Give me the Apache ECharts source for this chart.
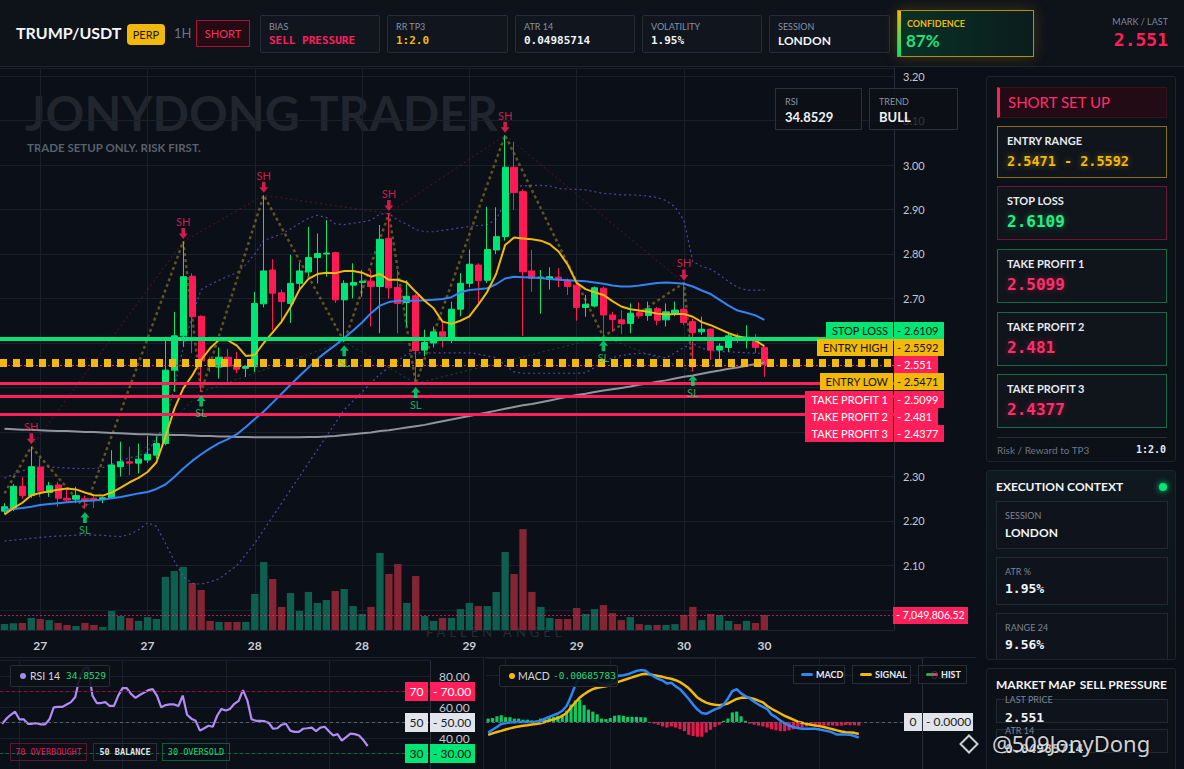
<!DOCTYPE html>
<html>
<head>
<meta charset="utf-8">
<title>TRUMP/USDT</title>
<script src="https://cdn.jsdelivr.net/npm/echarts@6/dist/echarts.min.js"></script>
<style>
*{box-sizing:border-box}
html,body{margin:0;padding:0;width:1184px;height:769px;overflow:hidden;background:#0b0f17;font-family:Lato,"Noto Sans",sans-serif;color:#e8ebf0}
.abs{position:absolute;white-space:nowrap}
.mono{font-family:"DejaVu Sans Mono","Liberation Mono",monospace;font-weight:bold}
#bg{position:absolute;left:0;top:0;width:1184px;height:769px;z-index:0}
#chart{position:absolute;left:0;top:0;width:1184px;height:769px;z-index:1}
#ui{position:absolute;left:0;top:0;width:1184px;height:769px;z-index:2;pointer-events:none}
#wm1{left:25px;top:85px;font-size:48px;font-weight:bold;color:#20252e;line-height:56px}
#wm2{left:27px;top:141px;font-size:11.5px;font-weight:bold;color:#59606d}
#wm3{left:426px;top:624px;font-size:13px;letter-spacing:4px;color:#252b35}
#hdr{left:0;top:0;width:1184px;height:67px;background:#0e1219;border-bottom:1px solid #1d2431}
.perp{left:127px;top:24px;width:38px;height:21px;background:#f0b90b;border-radius:4px;color:#1b1608;font-size:11px;line-height:21px;text-align:center}
.short{left:196px;top:20px;width:54px;height:27px;border:1px solid #a5133d;background:#230a13;color:#ff2d5f;font-size:11px;line-height:25px;text-align:center}
.ib{top:15px;height:38px;border:1px solid #242c39;background:#10151e;border-radius:2px}
.ib .l{position:absolute;left:8px;top:5px;font-size:9px;color:#8892a6}
.ib .v{position:absolute;left:8px;top:18px;font-size:11px;color:#f1f3f6;line-height:14px}
.conf{left:897px;top:10px;width:137px;height:47px;border:1px solid #b38c13;background:linear-gradient(90deg,rgba(4,70,45,.6),rgba(8,40,33,.5));box-shadow:0 0 14px rgba(240,185,11,.22)}
.conf .bar{position:absolute;left:0;top:0;width:3px;height:100%;background:linear-gradient(#f0b90b,#00e676)}
.conf .l{position:absolute;left:9px;top:7px;font-size:9px;font-weight:bold;color:#f0b90b}
.conf .v{position:absolute;left:8px;top:19px;font-size:17px;font-weight:bold;color:#22e07a}
.card{border:1px solid #1b2230;background:#0c1118;border-radius:3px;overflow:hidden}
.sshdr{left:10px;top:10px;width:170px;height:31px;background:#230b15;border:1px solid #361221;border-left:3px solid #ff1f5a;color:#ff2d6a;font-size:15px;line-height:29px;padding-left:8px}
.sbox{left:10px;width:170px;border:1px solid;background:#10151c}
.sbox .sl{position:absolute;left:9px;top:7px;font-size:11px;color:#e8ebf0;font-weight:bold}
.sbox .sv{position:absolute;left:9px;top:25px;font-size:16px}
.ec .t,.mm .t{position:absolute;top:8px;font-size:12px;font-weight:bold;color:#f2f4f7}
.dot{left:172px;top:12px;width:8px;height:8px;border-radius:50%;background:#00e676;box-shadow:0 0 6px #00e676}
.sub{left:9px;width:172px;border:1px solid #222936;background:#0f141c}
.sub .l{position:absolute;left:8px;top:8px;font-size:9px;color:#7b8495}
.sub .v{position:absolute;left:8px;top:23px;font-size:12px;font-weight:bold;color:#f2f4f7}
.ibox{top:88px;height:42px;border:1px solid #2a313d;background:rgba(12,16,23,.8)}
.ibox .l{position:absolute;left:9px;top:7px;font-size:9px;color:#8a93a3}
.ibox .v{position:absolute;left:9px;top:20px;font-size:13px;font-weight:bold;color:#eef0f3}
.leg{height:22px;border:1px solid #262d39;background:rgba(11,15,22,.9);border-radius:2px;font-size:10.5px;line-height:20px}
.leg .mv{font-family:"DejaVu Sans Mono","Liberation Mono",monospace;font-size:9.5px;color:#1fdc78}
.chip{top:743px;height:18px;border:1px solid;font-size:8.5px;line-height:16px;text-align:center}
.ml{top:665px;height:19px;border:1px solid #262d39;background:rgba(11,15,22,.75);font-size:9px;font-weight:bold;line-height:17px;color:#e6e9ee}
.ml i{position:absolute;left:7px;top:7px;width:12px;height:3px;border-radius:2px}
.ml span{position:absolute;left:22px}
.sep{background:#1c2330}
</style>
</head>
<body>
<div id="bg">
  <div class="abs" id="wm1">JONYDONG TRADER</div>
  <div class="abs" id="wm2">TRADE SETUP ONLY. RISK FIRST.</div>
  <div class="abs" id="wm3">FALLEN ANGEL</div>
</div>
<div id="chart"></div>
<div id="ui">
  <div class="abs sep" style="left:0;top:657px;width:976px;height:1px"></div>
  <div class="abs sep" style="left:483px;top:657px;width:1px;height:112px"></div>

  <div class="abs" id="hdr">
    <div class="abs" style="left:16px;top:23px;font-weight:bold;font-size:16px;color:#f5f6f8">TRUMP/USDT</div>
    <div class="abs perp">PERP</div>
    <div class="abs" style="left:174px;top:25px;font-size:13px;color:#6a7487">1H</div>
    <div class="abs short">SHORT</div>
    <div class="abs ib" style="left:260px;width:120px"><div class="l">BIAS</div><div class="v mono" style="color:#ff1f5a">SELL PRESSURE</div></div>
    <div class="abs ib" style="left:387px;width:121px"><div class="l">RR TP3</div><div class="v mono" style="color:#f0b90b">1:2.0</div></div>
    <div class="abs ib" style="left:515px;width:120px"><div class="l">ATR 14</div><div class="v mono">0.04985714</div></div>
    <div class="abs ib" style="left:642px;width:120px"><div class="l">VOLATILITY</div><div class="v mono">1.95%</div></div>
    <div class="abs ib" style="left:769px;width:121px"><div class="l">SESSION</div><div class="v" style="font-weight:bold;font-size:12px">LONDON</div></div>
    <div class="abs conf"><div class="bar"></div><div class="l">CONFIDENCE</div><div class="v">87%</div></div>
    <div class="abs" style="right:16px;top:16px;font-size:9px;color:#7d879b">MARK / LAST</div>
    <div class="abs mono" style="right:16px;top:29px;font-size:18px;color:#ff1f5a">2.551</div>
  </div>

  <div class="abs ibox" style="left:775px;width:87px"><div class="l">RSI</div><div class="v">34.8529</div></div>
  <div class="abs ibox" style="left:869px;width:89px"><div class="l">TREND</div><div class="v">BULL</div></div>

  <div class="abs card" style="left:986px;top:76px;width:190px;height:386px">
    <div class="abs sshdr">SHORT SET UP</div>
    <div class="abs sbox" style="top:49px;height:52px;border-color:#8c6d12"><div class="sl">ENTRY RANGE</div><div class="sv mono" style="font-size:13.5px;top:26px;color:#f0b90b;text-shadow:0 0 6px rgba(240,185,11,.5)">2.5471 - 2.5592</div></div>
    <div class="abs sbox" style="top:109px;height:54px;border-color:#6e1636"><div class="sl">STOP LOSS</div><div class="sv mono" style="color:#27ee85;text-shadow:0 0 6px rgba(0,230,118,.45)">2.6109</div></div>
    <div class="abs sbox" style="top:172px;height:54px;border-color:#146b47"><div class="sl">TAKE PROFIT 1</div><div class="sv mono" style="color:#ff2d6a;text-shadow:0 0 6px rgba(255,31,90,.45)">2.5099</div></div>
    <div class="abs sbox" style="top:235px;height:54px;border-color:#146b47"><div class="sl">TAKE PROFIT 2</div><div class="sv mono" style="color:#ff2d6a;text-shadow:0 0 6px rgba(255,31,90,.45)">2.481</div></div>
    <div class="abs sbox" style="top:297px;height:54px;border-color:#146b47"><div class="sl">TAKE PROFIT 3</div><div class="sv mono" style="color:#ff2d6a;text-shadow:0 0 6px rgba(255,31,90,.45)">2.4377</div></div>
    <div class="abs" style="left:10px;top:360px;width:170px;height:1px;background:#262d3a"></div>
    <div class="abs" style="left:10px;top:367px;font-size:10px;color:#6d7686">Risk / Reward to TP3</div>
    <div class="abs mono" style="right:9px;top:367px;font-size:10px;color:#e6e9ee">1:2.0</div>
  </div>

  <div class="abs card ec" style="left:986px;top:470px;width:190px;height:190px;background:linear-gradient(#101820,#0c1118)">
    <div class="t" style="left:9px">EXECUTION CONTEXT</div>
    <div class="abs dot"></div>
    <div class="abs sub" style="top:30px;height:48px"><div class="l">SESSION</div><div class="v">LONDON</div></div>
    <div class="abs sub" style="top:86px;height:48px"><div class="l">ATR %</div><div class="v mono" style="font-size:13px">1.95%</div></div>
    <div class="abs sub" style="top:142px;height:48px"><div class="l">RANGE 24</div><div class="v mono" style="font-size:13px">9.56%</div></div>
  </div>

  <div class="abs card mm" style="left:986px;top:668px;width:190px;height:110px">
    <div class="t" style="left:9px">MARKET MAP</div>
    <div class="t" style="right:8px">SELL PRESSURE</div>
    <div class="abs sub" style="top:30px;height:24px"></div>
    <div class="abs" style="left:18px;top:25px;font-size:9px;color:#7b8495">LAST PRICE</div>
    <div class="abs mono" style="left:18px;top:41px;font-size:13px;color:#f2f4f7">2.551</div>
    <div class="abs sub" style="top:60px;height:24px"></div>
    <div class="abs" style="left:18px;top:56px;font-size:9px;color:#7b8495">ATR 14</div>
    <div class="abs mono" style="left:18px;top:72px;font-size:13px;color:#f2f4f7">0.04985714</div>
  </div>

  <div class="abs leg" style="left:10px;top:665px;width:100px">
    <div class="abs" style="left:9px;top:7px;width:6px;height:6px;border-radius:50%;background:#a48bf0"></div>
    <div class="abs" style="left:19px;color:#d6d9df">RSI 14</div>
    <div class="abs mv" style="left:55px">34.8529</div>
  </div>
  <div class="abs chip mono" style="left:10px;width:77px;border-color:#5c1630;color:#e0175b;font-weight:normal">70 OVERBOUGHT</div>
  <div class="abs chip mono" style="left:93px;width:64px;border-color:#2a303b;color:#dfe2e7">50 BALANCE</div>
  <div class="abs chip mono" style="left:162px;width:68px;border-color:#0f5c38;color:#12d872;font-weight:normal">30 OVERSOLD</div>

  <div class="abs leg" style="left:499px;top:665px;width:119px">
    <div class="abs" style="left:9px;top:7px;width:6px;height:6px;border-radius:50%;background:#f0b90b"></div>
    <div class="abs" style="left:18px;color:#d6d9df">MACD</div>
    <div class="abs mv" style="left:53px">-0.00685783</div>
  </div>
  <div class="abs ml" style="left:793px;width:52px"><i style="background:#2f86f6"></i><span>MACD</span></div>
  <div class="abs ml" style="left:852px;width:59px"><i style="background:#f0b90b"></i><span>SIGNAL</span></div>
  <div class="abs ml" style="left:918px;width:49px"><i style="background:linear-gradient(90deg,#00c853,#ff1f5a)"></i><span>HIST</span></div>

  <div class="abs" style="left:962px;top:737px;width:14px;height:14px;border:2px solid rgba(255,255,255,.8);transform:rotate(45deg)"></div>
  <div class="abs" style="left:992px;top:728px;font-size:22px;font-family:'Noto Sans',sans-serif;color:rgba(255,255,255,.82);text-shadow:0 0 3px #000">@509JonyDong</div>
</div>

<script>
// ---------- data ----------
const tickIndex = [4, 16, 28, 40, 52, 64, 76, 85];
const tickText = ['27', '27', '28', '28', '29', '29', '30', '30'];
const slotCount = 100; // hourly slots on the time axis (86 candles + right padding)

const open = [2.222,2.228,2.278,2.257,2.321,2.264,2.281,2.251,2.249,2.250,
2.251,2.248,2.251,2.322,2.333,2.330,2.337,2.348,2.374,2.539,
2.616,2.750,2.660,2.562,2.546,2.568,2.552,2.543,2.547,2.688,
2.764,2.713,2.689,2.734,2.760,2.792,2.800,2.803,2.697,2.730,
2.736,2.739,2.727,2.835,2.725,2.691,2.706,2.584,2.600,2.625,
2.607,2.676,2.734,2.775,2.741,2.809,2.839,2.995,2.940,2.762,
2.745,2.743,2.748,2.741,2.730,2.680,2.683,2.723,2.663,2.652,
2.644,2.668,2.662,2.677,2.652,2.667,2.676,2.648,2.625,2.631,
2.584,2.590,2.614,2.608,2.608,2.590];
const close = [2.232,2.278,2.257,2.322,2.267,2.279,2.251,2.247,2.257,2.246,
2.247,2.252,2.326,2.333,2.330,2.339,2.350,2.374,2.539,2.616,
2.749,2.659,2.560,2.548,2.568,2.548,2.541,2.547,2.689,2.762,
2.712,2.693,2.734,2.762,2.792,2.801,2.802,2.697,2.734,2.736,
2.739,2.727,2.833,2.724,2.689,2.705,2.583,2.601,2.625,2.614,
2.676,2.734,2.777,2.740,2.810,2.839,2.995,2.938,2.760,2.745,
2.748,2.749,2.742,2.727,2.680,2.687,2.724,2.663,2.653,2.644,
2.667,2.661,2.677,2.651,2.670,2.674,2.646,2.623,2.631,2.584,
2.593,2.616,2.607,2.613,2.590,2.551];
const low = [2.215,2.222,2.250,2.252,2.254,2.254,2.232,2.243,2.240,2.228,
2.229,2.240,2.250,2.300,2.303,2.307,2.330,2.340,2.370,2.490,
2.592,2.577,2.490,2.535,2.520,2.513,2.532,2.524,2.535,2.680,
2.629,2.643,2.645,2.720,2.750,2.734,2.749,2.690,2.603,2.700,
2.704,2.637,2.622,2.700,2.622,2.637,2.509,2.570,2.590,2.590,
2.600,2.660,2.725,2.689,2.735,2.800,2.830,2.899,2.616,2.715,
2.666,2.720,2.725,2.708,2.650,2.659,2.680,2.614,2.625,2.620,
2.622,2.655,2.650,2.640,2.637,2.660,2.640,2.536,2.618,2.562,
2.558,2.580,2.600,2.588,2.578,2.524];
const high = [2.240,2.283,2.299,2.367,2.341,2.288,2.288,2.270,2.277,2.257,
2.258,2.255,2.359,2.378,2.367,2.374,2.391,2.390,2.614,2.670,
2.828,2.757,2.662,2.569,2.590,2.587,2.580,2.551,2.715,2.932,
2.788,2.720,2.798,2.780,2.861,2.846,2.876,2.805,2.741,2.779,
2.764,2.764,2.865,2.891,2.764,2.741,2.710,2.630,2.637,2.651,
2.693,2.757,2.810,2.779,2.906,2.905,3.067,3.052,2.945,2.809,
2.764,2.770,2.768,2.745,2.738,2.708,2.727,2.727,2.670,2.674,
2.689,2.691,2.693,2.681,2.689,2.693,2.735,2.655,2.659,2.633,
2.599,2.625,2.622,2.640,2.620,2.592];
// volume in millions
const volumeM = [2.8,3.2,3.3,5.7,5.2,4.7,3.3,2.4,1.9,3.3,
2.4,1.4,9.0,6.6,5.7,4.3,6.1,5.2,25.1,27.9,
29.8,22.2,18.9,4.3,3.8,3.8,3.8,3.8,17.0,32.1,
24.1,10.9,17.5,9.0,18.0,12.8,14.2,18.4,19.4,11.3,
7.6,10.9,36.4,26.5,31.2,12.8,25.5,6.6,4.3,5.7,
5.7,9.9,12.8,11.3,11.3,18.0,36.9,26.5,47.7,18.0,
10.9,5.7,5.2,5.2,10.4,7.6,9.9,11.8,8.0,4.7,
6.1,2.8,2.4,2.4,2.4,2.8,7.1,10.9,4.7,7.6,
7.1,4.3,2.8,4.3,3.3,7.04980652];
const emaFast = [2.215,2.229,2.241,2.258,2.263,2.267,2.270,2.273,2.271,2.264,
2.258,2.257,2.264,2.275,2.287,2.297,2.310,2.332,2.389,2.452,
2.498,2.527,2.562,2.588,2.607,2.606,2.594,2.571,2.573,2.600,
2.624,2.648,2.681,2.720,2.744,2.755,2.758,2.757,2.762,2.762,
2.758,2.749,2.755,2.742,2.742,2.736,2.715,2.695,2.678,2.648,
2.643,2.650,2.660,2.686,2.715,2.755,2.820,2.837,2.835,2.833,
2.830,2.822,2.805,2.776,2.735,2.721,2.714,2.708,2.694,2.682,
2.676,2.673,2.670,2.666,2.664,2.665,2.665,2.659,2.647,2.640,
2.631,2.622,2.615,2.611,2.606,2.593];
const emaSlow = [2.226,2.227,2.229,2.232,2.236,2.238,2.240,2.242,2.244,2.245,
2.246,2.248,2.251,2.254,2.258,2.262,2.265,2.272,2.282,2.299,
2.318,2.335,2.350,2.363,2.375,2.384,2.395,2.411,2.429,2.446,
2.466,2.486,2.506,2.526,2.545,2.564,2.580,2.595,2.611,2.628,
2.646,2.667,2.684,2.692,2.695,2.695,2.695,2.696,2.697,2.699,
2.703,2.714,2.719,2.721,2.723,2.732,2.745,2.749,2.748,2.747,
2.746,2.744,2.742,2.741,2.740,2.739,2.736,2.733,2.729,2.727,
2.727,2.729,2.732,2.735,2.736,2.735,2.733,2.727,2.718,2.710,
2.697,2.684,2.673,2.668,2.662,2.652];
const ema200 = [2.407,2.406,2.405,2.405,2.404,2.403,2.402,2.402,2.401,2.400,
2.400,2.399,2.398,2.397,2.396,2.395,2.395,2.394,2.394,2.393,
2.393,2.392,2.391,2.391,2.390,2.390,2.389,2.389,2.388,2.388,
2.388,2.388,2.388,2.388,2.389,2.389,2.390,2.391,2.393,2.395,
2.397,2.399,2.402,2.404,2.407,2.410,2.413,2.416,2.420,2.424,
2.428,2.432,2.436,2.440,2.444,2.448,2.452,2.456,2.460,2.463,
2.467,2.471,2.475,2.479,2.483,2.486,2.490,2.493,2.496,2.499,
2.502,2.506,2.509,2.513,2.516,2.520,2.524,2.527,2.531,2.535,
2.538,2.542,2.545,2.549,2.553,2.556];
const bandUpper = [2.296,2.305,2.313,2.318,2.322,2.321,2.320,2.319,2.318,2.318,
2.318,2.320,2.328,2.335,2.342,2.346,2.355,2.385,2.420,2.500,
2.590,2.660,2.720,2.731,2.741,2.750,2.758,2.776,2.800,2.830,
2.838,2.845,2.856,2.869,2.880,2.887,2.882,2.868,2.866,2.869,
2.872,2.876,2.890,2.891,2.876,2.867,2.855,2.850,2.850,2.853,
2.856,2.859,2.862,2.864,2.866,2.878,2.915,2.952,2.953,2.954,
2.954,2.953,2.947,2.946,2.945,2.944,2.940,2.936,2.935,2.933,
2.933,2.932,2.930,2.927,2.920,2.906,2.876,2.783,2.772,2.766,
2.753,2.738,2.725,2.719,2.719,2.719];
const bandLower = [2.155,2.157,2.159,2.161,2.163,2.165,2.166,2.167,2.168,2.168,
2.168,2.168,2.166,2.165,2.170,2.180,2.196,2.188,2.150,2.110,
2.075,2.060,2.058,2.063,2.070,2.085,2.100,2.125,2.150,2.180,
2.210,2.240,2.270,2.300,2.330,2.360,2.390,2.420,2.450,2.470,
2.490,2.510,2.530,2.545,2.560,2.575,2.578,2.578,2.578,2.578,
2.578,2.578,2.578,2.575,2.571,2.567,2.550,2.535,2.532,2.532,
2.532,2.532,2.532,2.532,2.532,2.533,2.545,2.556,2.567,2.572,
2.575,2.577,2.575,2.571,2.566,2.578,2.590,2.599,2.588,2.583,
2.581,2.580,2.579,2.578,2.577,2.577];
const swingHighIdx = [3, 20, 29, 43, 56, 76];
const swingLowIdx = [9, 22, 38, 46, 67, 77];
const zigzagStart = 2.262; // where the swing line enters the left edge
const levelNames = ['STOP LOSS', 'ENTRY HIGH', '', 'ENTRY LOW', 'TAKE PROFIT 1', 'TAKE PROFIT 2', 'TAKE PROFIT 3'];
const levelValues = [2.6109, 2.5592, 2.551, 2.5471, 2.5099, 2.481, 2.4377];
const levelKinds = ['sl', 'entry', 'last', 'entry', 'tp', 'tp', 'tp'];
const priceTicks = [2.0, 2.1, 2.2, 2.3, 2.4, 2.5, 2.6, 2.7, 2.8, 2.9, 3.0, 3.1, 3.2];
const rsi = [49.2,52.5,55.0,57.0,52.1,52.1,49.2,49.2,49.6,48.8,
48.8,52.1,59.8,60.1,60.1,61.7,63.2,66.5,78.9,84.7,
85.6,67.4,62.6,62.6,63.2,60.7,60.7,67.4,72.2,72.2,
68.4,65.9,67.8,69.3,70.9,71.6,67.4,59.8,61.3,61.7,
61.7,60.7,67.4,55.0,52.5,51.1,44.8,46.3,47.9,47.3,
54.4,58.8,57.8,58.8,62.1,64.0,70.9,64.5,52.1,51.1,
51.1,50.9,49.8,46.0,46.3,48.6,49.2,44.8,44.0,44.0,
46.0,46.3,46.7,44.4,46.7,47.3,44.4,41.6,42.5,38.3,
40.6,42.9,42.5,41.6,38.7,34.85];
const rsiLevels = [70, 50, 30];
const macd = [-0.0226,-0.0167,-0.0107,-0.0042,-0.0024,-0.0012,-0.0006,0,0,0,
0,0.0006,0.0018,0.0071,0.0107,0.0143,0.0179,0.0238,0.0339,0.0548,
0.0786,0.0946,0.094,0.0923,0.0893,0.0857,0.0815,0.0798,0.0833,0.0935,
0.0982,0.0994,0.1012,0.1048,0.1083,0.1101,0.1095,0.1024,0.0964,0.0917,
0.0881,0.0815,0.0833,0.0756,0.0696,0.0595,0.0488,0.0369,0.0262,0.019,
0.0173,0.022,0.0268,0.0298,0.0369,0.05,0.0655,0.0696,0.0607,0.0548,
0.05,0.0429,0.0369,0.0321,0.0274,0.0155,0.0101,0.003,-0.003,-0.0077,
-0.0107,-0.0131,-0.0143,-0.0143,-0.0143,-0.0143,-0.0161,-0.0179,-0.0196,-0.0226,
-0.0268,-0.0268,-0.0268,-0.0274,-0.0298,-0.0333];
const signal = [-0.0274,-0.0244,-0.0214,-0.019,-0.0161,-0.0137,-0.0113,-0.0095,-0.0083,-0.0071,
-0.0054,-0.0042,-0.003,0,0.003,0.0054,0.0083,0.0131,0.019,0.031,
0.0417,0.0518,0.0589,0.0649,0.0696,0.0726,0.0744,0.0756,0.0786,0.0821,
0.0857,0.0887,0.0917,0.0946,0.0976,0.1006,0.1024,0.1012,0.0994,0.0976,
0.0958,0.0935,0.0917,0.0887,0.0845,0.0786,0.0714,0.0619,0.0518,0.0458,
0.0411,0.0381,0.0363,0.0357,0.0369,0.0393,0.044,0.0488,0.0512,0.0518,
0.0512,0.0488,0.0452,0.0417,0.0339,0.028,0.0232,0.0179,0.0131,0.0089,
0.0048,0.0006,-0.0018,-0.0042,-0.006,-0.0077,-0.0089,-0.0107,-0.0131,-0.0155,
-0.0179,-0.0202,-0.022,-0.0226,-0.0232,-0.0256];
const hist = [0.0071,0.0083,0.0119,0.0143,0.0101,0.0101,0.0071,0.0071,0.0048,0.0048,
0.003,0.003,0.0071,0.0083,0.0101,0.0107,0.0131,0.0155,0.0238,0.0369,
0.0458,0.0476,0.0357,0.0262,0.022,0.0161,0.0071,0.006,0.0083,0.0131,
0.0143,0.0131,0.0107,0.0107,0.0107,0.0101,0.0095,-0.0024,-0.0036,-0.006,
-0.0095,-0.0119,-0.0095,-0.0119,-0.0155,-0.0196,-0.0274,-0.0298,-0.0315,-0.0315,
-0.0226,-0.0167,-0.0107,-0.006,0.0024,0.0071,0.0202,0.022,0.0119,0.0024,
-0.0036,-0.006,-0.0077,-0.0095,-0.0119,-0.0155,-0.0179,-0.0196,-0.0196,-0.0179,
-0.0155,-0.0143,-0.0119,-0.0095,-0.0077,-0.0077,-0.0077,-0.0077,-0.0077,-0.0077,
-0.0083,-0.0077,-0.0065,-0.0071,-0.0071,-0.0077];

// ---------- build ----------
const categories = [];
for (let i = 0; i < slotCount; i++) {
  const h = i + 20;
  categories.push((26 + Math.floor(h / 24)) + ' ' + String(h % 24).padStart(2, '0') + ':00');
}
const UP = '#00e676', DOWN = '#ff1a55';
const VOL_UP = '#0d5f50', VOL_DN = '#842534';
const GRID = '#1a202b';
const FONT = 'Lato, "Noto Sans", sans-serif';
const candles = open.map((o, i) => [o, close[i], low[i], high[i]]);
const pivots = swingHighIdx.map(i => [i, high[i]]).concat(swingLowIdx.map(i => [i, low[i]])).sort((a, b) => a[0] - b[0]);
const zigzag = [[0, zigzagStart]].concat(pivots);
const ARROW_DOWN = 'path://M3,0L7,0L7,6L10,6L5,12L0,6L3,6Z';
const ARROW_UP = 'path://M5,0L10,6L7,6L7,12L3,12L3,6L0,6Z';
const mainLines = tickIndex.slice(0, -1);
const subLine = i => i >= 4 && i < 86 && (i - 4) % 24 === 0;
let hiddenPriceLabels = [];

function xAx(grid, extra) {
  return Object.assign({
    type: 'category', gridIndex: grid, data: categories, boundaryGap: true,
    axisLine: { show: false }, axisTick: { show: false }, axisLabel: { show: false },
    splitLine: { show: false }
  }, extra || {});
}
function lineS(data, color, width, type, z, ax) {
  return { type: 'line', xAxisIndex: ax || 0, yAxisIndex: ax || 0, data: data, symbol: 'none', showSymbol: false,
    silent: true, z: z, lineStyle: { color: color, width: width, type: type || 'solid' } };
}
function priceLabel(v) {
  for (let k = 0; k < hiddenPriceLabels.length; k++) if (Math.abs(hiddenPriceLabels[k] - v) < 1e-6) return '';
  return v.toFixed(2);
}

const chart = echarts.init(document.getElementById('chart'), null, { renderer: 'svg', width: 1184, height: 769 });
const lvlStyle = {
  sl: { color: '#00e676', width: 4, type: 'solid' },
  entry: { color: '#f0b90b', width: 4, type: [7, 6] },
  last: { color: '#ff1f5a', width: 1, type: [2, 2] },
  tp: { color: '#ff1f5a', width: 3, type: 'solid' }
};

chart.setOption({
  animation: false,
  backgroundColor: 'transparent',
  textStyle: { fontFamily: FONT },
  grid: [
    { left: 0, top: 68, width: 894, height: 562 },
    { left: 0, top: 520, width: 894, height: 110 },
    { left: 0, top: 660.6, width: 430, height: 121.8 },
    { left: 486, top: 658.4, width: 436, height: 131.6 }
  ],
  xAxis: [
    xAx(0, { splitLine: { show: true, alignWithLabel: true, interval: i => mainLines.indexOf(i) >= 0, lineStyle: { color: GRID } } }),
    xAx(1, {
      axisLine: { show: true, lineStyle: { color: '#1d2431' } },
      axisLabel: { show: true, interval: i => tickIndex.indexOf(i) >= 0, formatter: (v, i) => tickText[tickIndex.indexOf(i)] || '',
        color: '#c9ced6', fontSize: 12, fontWeight: 'bold', margin: 9, fontFamily: FONT }
    }),
    xAx(2, { splitLine: { show: true, alignWithLabel: true, interval: subLine, lineStyle: { color: GRID } } }),
    xAx(3, { splitLine: { show: true, alignWithLabel: true, interval: subLine, lineStyle: { color: GRID } } })
  ],
  yAxis: [
    { type: 'value', gridIndex: 0, position: 'right', min: 1.955, max: 3.218, splitNumber: 13, scale: true,
      axisLine: { show: true, lineStyle: { color: '#262d3a' } }, axisTick: { show: false },
      axisLabel: { color: '#c3c8d0', fontSize: 11, margin: 9, showMinLabel: false, showMaxLabel: false, formatter: priceLabel },
      splitLine: { show: true, lineStyle: { color: GRID } } },
    { type: 'value', gridIndex: 1, min: 0, max: 52, show: false, splitLine: { show: false } },
    { type: 'value', gridIndex: 2, position: 'right', min: 20, max: 90, interval: 10,
      axisLine: { show: true, lineStyle: { color: '#262d3a' } }, axisTick: { show: false },
      axisLabel: { color: '#c3c8d0', fontSize: 12, margin: 9, formatter: v => ([80, 60, 40].indexOf(v) >= 0 ? v.toFixed(2) : '') },
      splitLine: { show: true, lineStyle: { color: GRID } } },
    { type: 'value', gridIndex: 3, position: 'right', min: -0.1, max: 0.135, interval: 0.1,
      axisLine: { show: true, lineStyle: { color: '#262d3a' } }, axisTick: { show: false },
      axisLabel: { color: '#8a909b', fontSize: 12, margin: 9, formatter: v => (Math.abs(v - 0.1) < 1e-9 ? '0.10' : '') },
      splitLine: { show: true, lineStyle: { color: GRID } } }
  ],
  series: [
    lineS(bandUpper, 'rgba(110,85,210,0.75)', 1.2, [2, 3], 1),
    lineS(bandLower, 'rgba(110,85,210,0.75)', 1.2, [2, 3], 1),
    lineS(swingHighIdx.map(i => [i, high[i]]), 'rgba(150,30,65,0.55)', 1, [2, 3], 1),
    lineS(swingLowIdx.map(i => [i, low[i]]), 'rgba(30,130,85,0.5)', 1, [2, 3], 1),
    lineS(zigzag, 'rgba(165,140,40,0.55)', 2.5, [3, 3], 1),
    {
      type: 'candlestick', xAxisIndex: 0, yAxisIndex: 0, data: candles, barWidth: '74%', z: 2, silent: true,
      itemStyle: { color: UP, color0: DOWN, borderColor: UP, borderColor0: DOWN, borderWidth: 1 },
      markLine: {
        symbol: ['none', 'none'], silent: true, animation: false, label: { show: false },
        data: levelValues.map((v, k) => ({ yAxis: v, lineStyle: lvlStyle[levelKinds[k]] }))
      }
    },
    lineS(ema200, '#8f959e', 2, 'solid', 3),
    lineS(emaSlow, '#3384f4', 2, 'solid', 3),
    lineS(emaFast, '#f0b90b', 2, 'solid', 3),
    {
      type: 'scatter', xAxisIndex: 0, yAxisIndex: 0, z: 6, silent: true,
      data: swingHighIdx.map(i => [i, high[i]]), symbol: ARROW_DOWN, symbolSize: [9, 11], symbolOffset: [0, -8],
      itemStyle: { color: '#ff1f5a' },
      label: { show: true, formatter: 'SH', position: 'top', distance: 1, color: '#ff1f5a', fontSize: 11, fontFamily: FONT }
    },
    {
      type: 'scatter', xAxisIndex: 0, yAxisIndex: 0, z: 6, silent: true,
      data: swingLowIdx.map(i => [i, low[i]]), symbol: ARROW_UP, symbolSize: [9, 11], symbolOffset: [0, 9],
      itemStyle: { color: '#00e676' },
      label: { show: true, formatter: 'SL', position: 'bottom', distance: 1, color: '#12d872', fontSize: 11, fontFamily: FONT }
    },
    {
      type: 'bar', xAxisIndex: 1, yAxisIndex: 1, barWidth: '82%', z: 1, silent: true,
      data: volumeM.map((v, i) => ({ value: v, itemStyle: { color: close[i] >= open[i] ? VOL_UP : VOL_DN } })),
      markLine: { symbol: ['none', 'none'], silent: true, label: { show: false },
        lineStyle: { color: '#ff1f5a', width: 1, type: [2, 2], opacity: 0.75 },
        data: [{ yAxis: volumeM[volumeM.length - 1] }] }
    },
    Object.assign(lineS(rsi, '#b18cf5', 2.2, 'solid', 3, 2), {
      markLine: { symbol: ['none', 'none'], silent: true, label: { show: false },
        data: [
          { yAxis: rsiLevels[0], lineStyle: { color: '#8b1538', width: 1, type: [3, 3] } },
          { yAxis: rsiLevels[1], lineStyle: { color: '#5b616c', width: 1, type: [3, 3] } },
          { yAxis: rsiLevels[2], lineStyle: { color: '#0e6b3d', width: 1, type: [3, 3] } }
        ] }
    }),
    {
      type: 'bar', xAxisIndex: 3, yAxisIndex: 3, barWidth: '72%', z: 1, silent: true,
      data: hist.map(v => ({ value: v, itemStyle: { color: v >= 0 ? '#0ccb62' : '#e8174f' } })),
      markLine: { symbol: ['none', 'none'], silent: true, label: { show: false },
        lineStyle: { color: '#5b616c', width: 1, type: [3, 3] }, data: [{ yAxis: 0 }] }
    },
    lineS(signal, '#f0b90b', 2.5, 'solid', 3, 3),
    lineS(macd, '#2f86f6', 2.5, 'solid', 4, 3)
  ]
});

// ---------- axis-side value tags, placed through the chart's own scales ----------
const ui = document.getElementById('ui');
function el(css, text) {
  const d = document.createElement('div');
  d.className = 'abs';
  d.style.cssText = css;
  d.textContent = text;
  ui.appendChild(d);
  return d;
}
const TAG = {
  sl: { bg: '#00e676', fg: '#07110b' }, entry: { bg: '#f0b90b', fg: '#15120a' },
  last: { bg: '#ff1f5a', fg: '#ffffff' }, tp: { bg: '#ff1f5a', fg: '#ffffff' }
};
const gridRight = 894;
const ys = levelValues.map(v => chart.convertToPixel({ yAxisIndex: 0 }, v));
const anchor = levelKinds.indexOf('last');
const pos = ys.slice();
const GAP = 17.2;
for (let k = anchor - 1; k >= 0; k--) pos[k] = Math.min(ys[k], pos[k + 1] - GAP);
for (let k = anchor + 1; k < pos.length; k++) pos[k] = Math.max(ys[k], pos[k - 1] + GAP);
const tagSpans = [];
levelValues.forEach((v, k) => {
  const c = TAG[levelKinds[k]];
  const top = pos[k] - 8.5;
  tagSpans.push([top, top + 17]);
  if (levelNames[k]) el('right:' + (1184 - gridRight + 1) + 'px;top:' + top + 'px;height:17px;line-height:17px;padding:0 5px 0 6px;background:' + c.bg + ';color:' + c.fg + ';font-size:11px', levelNames[k]);
  el('left:' + gridRight + 'px;top:' + top + 'px;height:17px;line-height:17px;padding:0 6px 0 3px;background:' + c.bg + ';color:' + c.fg + ';font-size:11px', '- ' + v);
});
// last volume tag
const lastVol = volumeM[volumeM.length - 1];
const vy = chart.convertToPixel({ yAxisIndex: 1 }, lastVol);
tagSpans.push([vy - 8.5, vy + 8.5]);
el('left:' + (gridRight - 1) + 'px;top:' + (vy - 8.5) + 'px;height:17px;line-height:17px;padding:0 3px 0 3px;background:#ff1f5a;color:#fff;font-size:10.5px',
  '- ' + (lastVol * 1e6).toLocaleString('en-US', { minimumFractionDigits: 2, maximumFractionDigits: 2 }));
// price-axis labels that sit under a tag are covered in the reference: leave them out
hiddenPriceLabels = priceTicks.filter(t => {
  const y = chart.convertToPixel({ yAxisIndex: 0 }, t);
  return tagSpans.some(s => y > s[0] - 4 && y < s[1] + 4);
});
chart.setOption({ yAxis: [{ axisLabel: { formatter: priceLabel } }] });
// RSI level tags
const rsiTag = { 70: ['#ff1f5a', '#fff'], 50: ['#e1e4ea', '#1a1d24'], 30: ['#00e676', '#06130b'] };
rsiLevels.forEach(v => {
  const y = chart.convertToPixel({ yAxisIndex: 2 }, v);
  const c = rsiTag[v];
  el('left:405px;top:' + (y - 9.5) + 'px;width:23px;height:19px;line-height:19px;text-align:center;background:' + c[0] + ';color:' + c[1] + ';font-size:12px', String(v));
  el('left:430px;top:' + (y - 9.5) + 'px;width:45px;height:19px;line-height:19px;padding-left:3px;background:' + c[0] + ';color:' + c[1] + ';font-size:12px', '- ' + v.toFixed(2));
});
// MACD zero tag
const zy = chart.convertToPixel({ yAxisIndex: 3 }, 0);
el('left:904px;top:' + (zy - 9) + 'px;width:18px;height:18px;line-height:18px;text-align:center;background:#e1e4ea;color:#1a1d24;font-size:12px', '0');
el('left:923px;top:' + (zy - 9) + 'px;width:50px;height:18px;line-height:18px;padding-left:3px;background:#e1e4ea;color:#1a1d24;font-size:12px', '- 0.0000');
</script>
</body>
</html>
